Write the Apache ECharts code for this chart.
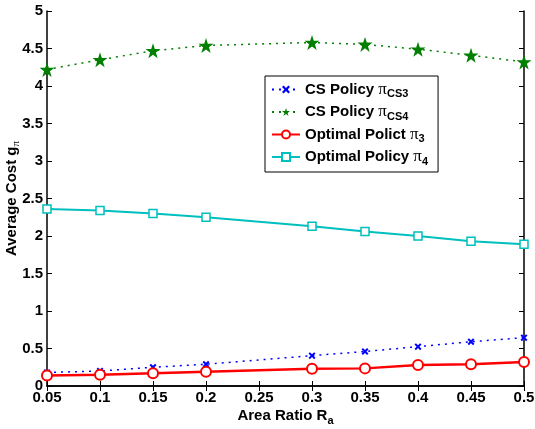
<!DOCTYPE html>
<html>
<head>
<meta charset="utf-8">
<script src="https://cdn.jsdelivr.net/npm/echarts@6/dist/echarts.min.js"></script>
<style>
  html, body { margin: 0; padding: 0; background: #fff; }
  #chart { width: 535px; height: 429px; }
</style>
</head>
<body>
<div id="chart"></div>
<script>
// Area ratio values where each policy was evaluated
const areaRatio = [0.05, 0.1, 0.15, 0.2, 0.3, 0.35, 0.4, 0.45, 0.5];

// Average cost for each policy
const csPolicy3 = [0.18, 0.20, 0.25, 0.29, 0.405, 0.46, 0.525, 0.59, 0.645];
const csPolicy4 = [4.22, 4.35, 4.47, 4.54, 4.58, 4.555, 4.49, 4.41, 4.32];
const optimal3  = [0.14, 0.15, 0.17, 0.19, 0.23, 0.235, 0.28, 0.29, 0.32];
const optimal4  = [2.36, 2.34, 2.30, 2.25, 2.13, 2.06, 2.00, 1.93, 1.89];

const seriesNames = ['CS Policy πCS3', 'CS Policy πCS4', 'Optimal Polict π3', 'Optimal Policy π4'];

const FONT = 'Liberation Sans, Arial, Helvetica, sans-serif';
const PI_FONT = 'Liberation Serif, Times New Roman, serif';
const pair = ys => areaRatio.map((x, i) => [x, ys[i]]);

const STAR = 'path://M50,0 L61.8,35.4 L99,35.4 L69.1,57.3 L80.4,92.7 L50,70.8 L19.6,92.7 L30.9,57.3 L1,35.4 L38.2,35.4 Z';
const CROSS = 'path://M0,20 L20,0 L50,30 L80,0 L100,20 L70,50 L100,80 L80,100 L50,70 L20,100 L0,80 L30,50 Z';

const legendRich = {
  n: { fontFamily: FONT, fontWeight: 'bold', fontSize: 15, color: '#000' },
  p: { fontFamily: PI_FONT, fontSize: 17, color: '#000' },
  s: { fontFamily: FONT, fontWeight: 'bold', fontSize: 11, color: '#000', padding: [9, 0, 0, 0] }
};
const legendLabel = {
  'CS Policy πCS3': '{n|CS Policy }{p|π}{s|CS3}',
  'CS Policy πCS4': '{n|CS Policy }{p|π}{s|CS4}',
  'Optimal Polict π3': '{n|Optimal Polict }{p|π}{s|3}',
  'Optimal Policy π4': '{n|Optimal Policy }{p|π}{s|4}'
};

const fmt = v => String(parseFloat(v.toFixed(2)));

const chart = echarts.init(document.getElementById('chart'));
chart.setOption({
  animation: false,
  backgroundColor: '#fff',
  grid: { left: 47, right: 11, top: 11, bottom: 43, show: false, containLabel: false, outerBoundsMode: 'none' },
  legend: {
    orient: 'vertical',
    left: 265, top: 76,
    width: 172,
    padding: [5, 10, 5, 6],
    itemGap: 4,
    itemWidth: 28, itemHeight: 10,
    backgroundColor: '#fff',
    borderColor: '#000', borderWidth: 1,
    data: seriesNames,
    formatter: name => legendLabel[name],
    textStyle: { rich: legendRich }
  },
  xAxis: [{
    type: 'value', min: 0.05, max: 0.5, interval: 0.05,
    name: '{n|Area Ratio R}{s|a}',
    nameLocation: 'middle', nameGap: 19, nameMoveOverlap: false,
    nameTextStyle: { rich: {
      n: { fontFamily: FONT, fontWeight: 'bold', fontSize: 15, color: '#000' },
      s: { fontFamily: FONT, fontWeight: 'bold', fontSize: 11, color: '#000', padding: [10, 0, 0, 0] }
    } },
    axisLine: { lineStyle: { color: '#000', width: 1.5 } },
    axisTick: { inside: true, length: 5, lineStyle: { color: '#000' } },
    axisLabel: { formatter: fmt, fontFamily: FONT, fontWeight: 'bold', fontSize: 15, color: '#000', margin: 4 },
    splitLine: { show: false }
  }, {
    type: 'value', position: 'top', min: 0.05, max: 0.5, interval: 0.05,
    axisLine: { lineStyle: { color: '#000', width: 1.5 } },
    axisTick: { inside: true, length: 5, lineStyle: { color: '#000' } },
    axisLabel: { show: false }, splitLine: { show: false }
  }],
  yAxis: [{
    type: 'value', min: 0, max: 5, interval: 0.5,
    name: '{n|Average Cost g}{s|π}',
    nameLocation: 'middle', nameGap: 25, nameRotate: 90, nameMoveOverlap: false,
    nameTextStyle: { rich: {
      n: { fontFamily: FONT, fontWeight: 'bold', fontSize: 15, color: '#000' },
      s: { fontFamily: PI_FONT, fontSize: 11, color: '#000', padding: [10, 0, 0, 0] }
    } },
    axisLine: { lineStyle: { color: '#000', width: 1.5 } },
    axisTick: { inside: true, length: 5, lineStyle: { color: '#000' } },
    axisLabel: { formatter: fmt, fontFamily: FONT, fontWeight: 'bold', fontSize: 15, color: '#000', margin: 4 },
    splitLine: { show: false }
  }, {
    type: 'value', position: 'right', min: 0, max: 5, interval: 0.5,
    axisLine: { show: true, lineStyle: { color: '#000', width: 1.5 } },
    axisTick: { show: true, inside: true, length: 5, lineStyle: { color: '#000' } },
    axisLabel: { show: false }, splitLine: { show: false }
  }],
  series: [{
    name: seriesNames[0], type: 'line', data: pair(csPolicy3),
    symbol: CROSS, symbolSize: 7, showAllSymbol: true,
    itemStyle: { color: '#0000ff' },
    lineStyle: { color: '#0000ff', width: 1.5, type: [2, 5] }
  }, {
    name: seriesNames[1], type: 'line', data: pair(csPolicy4),
    symbol: STAR, symbolSize: 15, showAllSymbol: true,
    itemStyle: { color: '#007f00' },
    lineStyle: { color: '#007f00', width: 1.5, type: [2, 5] }
  }, {
    name: seriesNames[2], type: 'line', data: pair(optimal3),
    symbol: 'circle', symbolSize: 10, showAllSymbol: true,
    itemStyle: { color: '#fff', borderColor: '#ff0000', borderWidth: 2 },
    lineStyle: { color: '#ff0000', width: 2.5 }
  }, {
    name: seriesNames[3], type: 'line', data: pair(optimal4),
    symbol: 'rect', symbolSize: 8, showAllSymbol: true,
    itemStyle: { color: '#fff', borderColor: '#00bfbf', borderWidth: 1.5 },
    lineStyle: { color: '#00bfbf', width: 2 }
  }]
});
</script>
</body>
</html>
